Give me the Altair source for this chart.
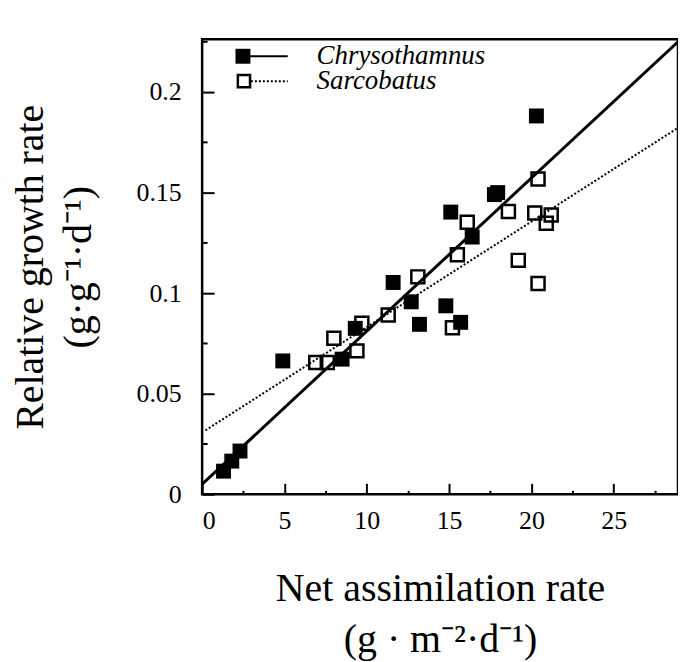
import altair as alt
import pandas as pd

# ---- data ----
species = ["Chrysothamnus", "Sarcobatus"]

chryso_x = [1.3, 1.8, 2.3, 4.9, 8.5, 9.3, 11.6, 12.7, 13.2, 14.8, 15.7, 15.1, 16.4, 17.75, 17.95, 20.3]
chryso_y = [0.0115, 0.0165, 0.0215, 0.0663, 0.0672, 0.0825, 0.1053, 0.0957, 0.0845, 0.0937,
            0.0855, 0.1403, 0.1279, 0.1490, 0.1500, 0.1881]

sarco_x = [6.9, 7.6, 8.0, 9.4, 9.7, 11.3, 13.1, 15.5, 15.2, 16.1, 18.6, 19.2, 20.4, 20.2, 20.4, 20.9, 21.2]
sarco_y = [0.0655, 0.0655, 0.0776, 0.0713, 0.0850, 0.0891, 0.1081, 0.1191, 0.0828, 0.1353,
           0.1406, 0.1163, 0.1568, 0.1398, 0.1048, 0.1348, 0.1389]

chryso_fit_x = [0.0, 28.9]
chryso_fit_y = [0.005, 0.2250]
sarco_fit_x = [0.2, 28.9]
sarco_fit_y = [0.0318, 0.1822]

x_major = [0, 5, 10, 15, 20, 25]
x_minor = [2.5, 7.5, 12.5, 17.5, 22.5, 27.5]
y_major = [0, 0.05, 0.1, 0.15, 0.2]
y_minor = [0.025, 0.075, 0.125, 0.175, 0.225]

x_title = ["Net assimilation rate", "(g \u00b7 m\u207b\u00b2\u00b7d\u207b\u00b9)"]
y_title = ["Relative growth rate", "(g\u00b7g\u207b\u00b9\u00b7d\u207b\u00b9)"]

FONT = "Liberation Serif"

chryso = pd.DataFrame({"x": chryso_x, "y": chryso_y})
sarco = pd.DataFrame({"x": sarco_x, "y": sarco_y})
cfit = pd.DataFrame({"x": chryso_fit_x, "y": chryso_fit_y})
sfit = pd.DataFrame({"x": sarco_fit_x, "y": sarco_fit_y})
allpts = pd.concat([chryso, sarco])

xscale = alt.Scale(domain=[0, 28.9], nice=False, zero=False)
yscale = alt.Scale(domain=[0, 0.2262], nice=False, zero=False)

xaxis_major = alt.Axis(values=x_major, orient="bottom", tickSize=11, offset=-11, domain=False,
                       grid=False, labelFont=FONT, labelFontSize=26, labelColor="black",
                       labelPadding=13, tickColor="black", tickWidth=2,
                       title=x_title, titleFont=FONT, titleFontSize=40, titleFontWeight="normal",
                       titleColor="black", titlePadding=36, titleLineHeight=51)
yaxis_major = alt.Axis(values=y_major, orient="left", tickSize=12, offset=-12, domain=False,
                       grid=False, format=".2~f", labelFont=FONT, labelFontSize=26,
                       labelColor="black", labelPadding=21, tickColor="black", tickWidth=2,
                       title=y_title, titleFont=FONT, titleFontSize=40, titleFontWeight="normal",
                       titleColor="black", titlePadding=38, titleLineHeight=48)
xaxis_minor = alt.Axis(values=x_minor, orient="bottom", tickSize=4, offset=-4, domain=False,
                       grid=False, labels=False, tickColor="black", tickWidth=2, title=None)
yaxis_minor = alt.Axis(values=y_minor, orient="left", tickSize=5, offset=-5, domain=False,
                       grid=False, labels=False, tickColor="black", tickWidth=2, title=None)

base_major = alt.Chart(allpts).mark_point(opacity=0).encode(
    x=alt.X("x:Q", scale=xscale, axis=xaxis_major),
    y=alt.Y("y:Q", scale=yscale, axis=yaxis_major),
)
base_minor = alt.Chart(allpts).mark_point(opacity=0).encode(
    x=alt.X("x:Q", scale=xscale, axis=xaxis_minor),
    y=alt.Y("y:Q", scale=yscale, axis=yaxis_minor),
)

enc = dict(x=alt.X("x:Q", scale=xscale, axis=None), y=alt.Y("y:Q", scale=yscale, axis=None))

line_c = alt.Chart(cfit).mark_line(color="black", strokeWidth=3, clip=True).encode(**enc)
line_s = alt.Chart(sfit).mark_line(color="black", strokeWidth=2, strokeDash=[2, 2], clip=True).encode(**enc)
pts_s = alt.Chart(sarco).mark_square(filled=False, color="black", size=170, strokeWidth=2.5, opacity=1).encode(**enc)
pts_c = alt.Chart(chryso).mark_square(filled=True, color="black", size=225, opacity=1).encode(**enc)

# ---- legend (annotation, pixel placed) ----
leg_c = pd.DataFrame({"name": [species[0]]})
leg_s = pd.DataFrame({"name": [species[1]]})
lg = [
    alt.Chart(leg_c).mark_square(filled=True, color="black", size=225, opacity=1).encode(
        x=alt.value(41), y=alt.value(17)),
    alt.Chart(leg_c).mark_rule(color="black", strokeWidth=2).encode(
        x=alt.value(48), x2=alt.value(86), y=alt.value(17)),
    alt.Chart(leg_c).mark_text(font=FONT, fontStyle="italic", fontSize=27, align="left",
                               baseline="alphabetic", color="black").encode(
        x=alt.value(115), y=alt.value(25), text="name:N"),
    alt.Chart(leg_s).mark_square(filled=False, color="black", size=150, strokeWidth=2.5, opacity=1).encode(
        x=alt.value(42), y=alt.value(42)),
    alt.Chart(leg_s).mark_rule(color="black", strokeWidth=2, strokeDash=[2, 2]).encode(
        x=alt.value(49), x2=alt.value(86), y=alt.value(42)),
    alt.Chart(leg_s).mark_text(font=FONT, fontStyle="italic", fontSize=27, align="left",
                               baseline="alphabetic", color="black").encode(
        x=alt.value(115), y=alt.value(50), text="name:N"),
]

chart = alt.layer(base_major, base_minor, line_s, line_c, pts_s, pts_c, *lg).resolve_axis(
    x="independent", y="independent"
).properties(
    width=478, height=457,
    autosize=alt.AutoSizeParams(type="none"),
    padding={"left": 195, "top": 30, "right": 0, "bottom": 167},
    background="white",
).configure_view(stroke="black", strokeWidth=2.5)

chart.save("out.html", embed_options={"renderer": "svg", "actions": False})
